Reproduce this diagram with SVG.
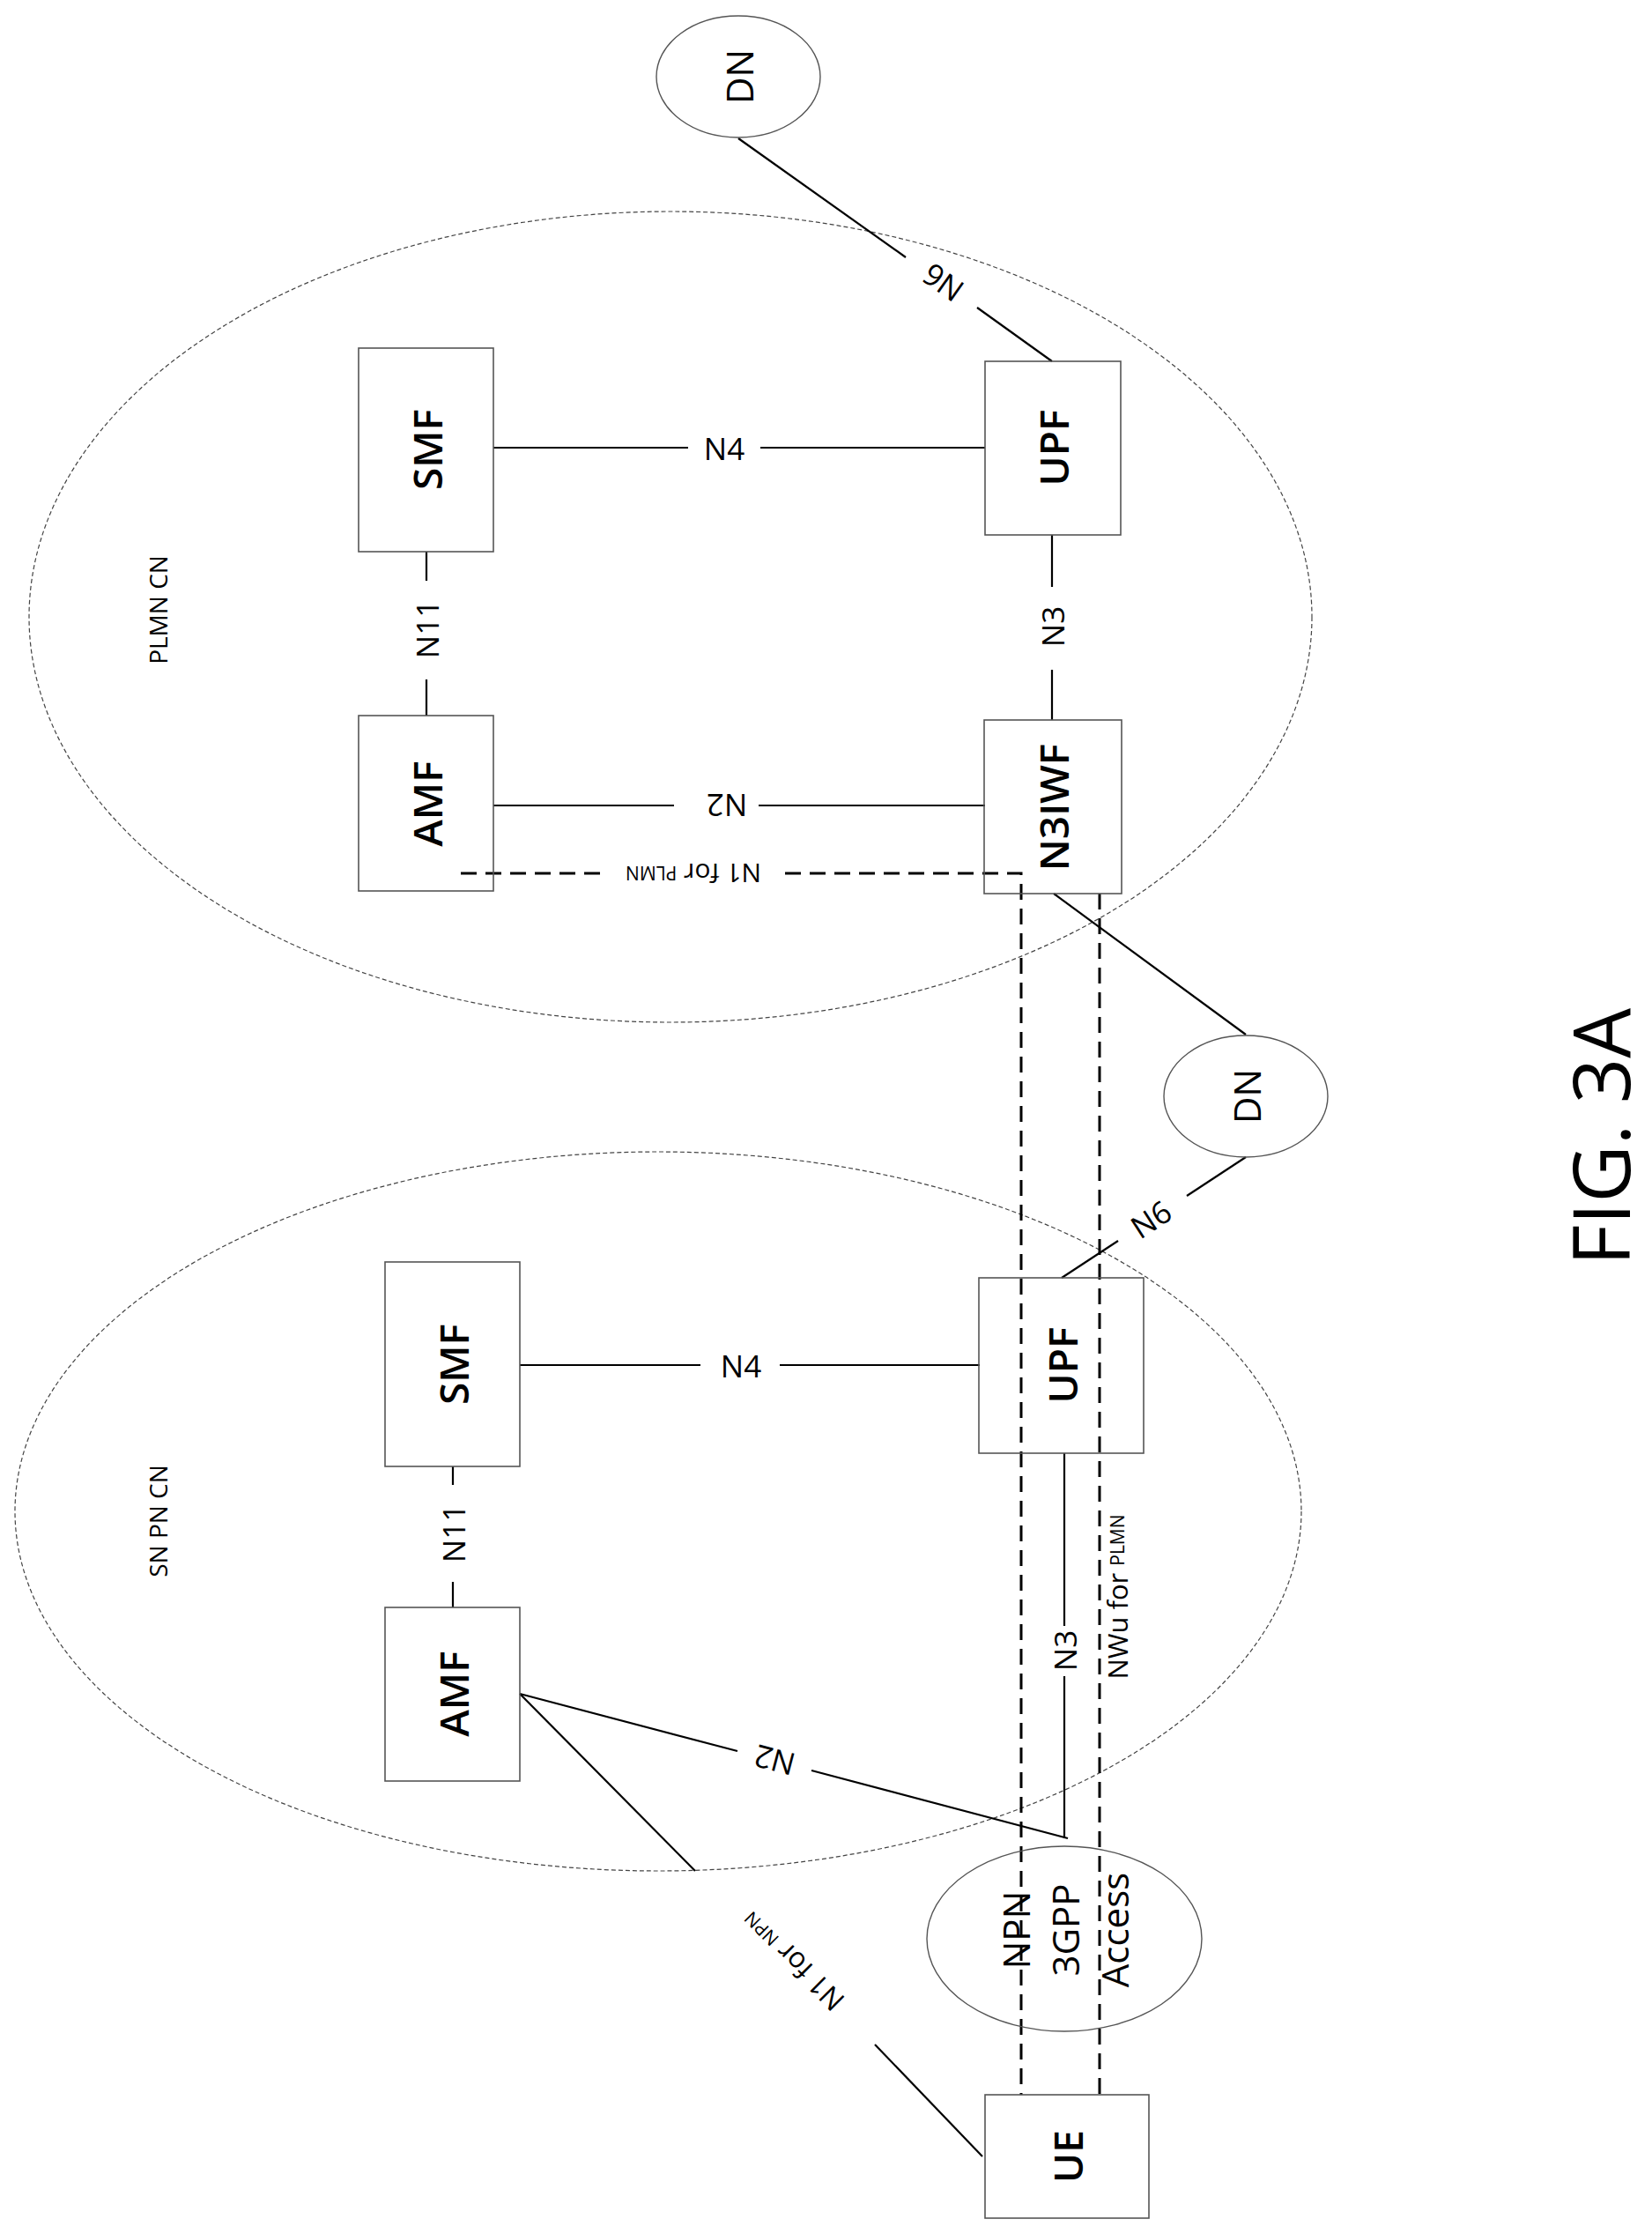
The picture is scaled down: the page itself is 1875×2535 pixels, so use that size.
<svg xmlns="http://www.w3.org/2000/svg" width="1875" height="2535" viewBox="0 0 1875 2535">
<style>
text{font-family:"Open Sans","DejaVu Sans",sans-serif;fill:#000;text-anchor:middle;dominant-baseline:central}
.box{fill:none;stroke:#555;stroke-width:1.6}
.cloud{fill:none;stroke:#444;stroke-width:1.2;stroke-dasharray:5 3}
.oval{fill:none;stroke:#555;stroke-width:1.4}
.ln{stroke:#000;stroke-width:2.2;fill:none}
.dash{stroke:#000;stroke-width:3;fill:none;stroke-dasharray:18 10}
.big{font-size:46px;font-weight:600}
.lbl{font-size:35px}
.sm{font-size:21px}
</style>
<rect width="1875" height="2535" fill="#fff"/>
<g id="plmn-cn">
<ellipse class="cloud" cx="761" cy="700" rx="728" ry="460"/>
<text x="179" y="692" font-size="28" transform="rotate(-90 179 692)">PLMN CN</text>
</g>
<g id="snpn-cn">
<ellipse class="cloud" cx="747" cy="1715" rx="730" ry="408"/>
<text x="179" y="1726" font-size="28" transform="rotate(-90 179 1726)">SN PN CN</text>
</g>
<g id="connectors">
<line class="ln" x1="560" y1="508" x2="781" y2="508"/><line class="ln" x1="863" y1="508" x2="1118" y2="508"/>
<text class="lbl" x="822" y="508">N4</text>
<line class="ln" x1="838" y1="157" x2="1028" y2="292"/><line class="ln" x1="1109" y1="349" x2="1194" y2="410"/>
<text class="lbl" x="1070" y="321" transform="rotate(215.4 1070 321)">N6</text>
<line class="ln" x1="1194" y1="607" x2="1194" y2="666"/><line class="ln" x1="1194" y1="760" x2="1194" y2="817"/>
<text class="lbl" x="1194" y="711" transform="rotate(-90 1194 711)">N3</text>
<line class="ln" x1="484" y1="626" x2="484" y2="659"/><line class="ln" x1="484" y1="771" x2="484" y2="812"/>
<text class="lbl" x="484" y="714" transform="rotate(-90 484 714)">N11</text>
<line class="ln" x1="560" y1="914" x2="765" y2="914"/><line class="ln" x1="861" y1="914" x2="1118" y2="914"/>
<text class="lbl" x="825" y="914" transform="rotate(180 825 914)">N2</text>
<polyline class="dash" points="523,991 688,991"/><polyline class="dash" points="891,991 1159,991 1159,2377"/>
<line class="dash" x1="1248" y1="1014" x2="1248" y2="2377"/>
<text x="787" y="991" font-size="30" transform="rotate(180 787 991)">N1 for <tspan class="sm">PLMN</tspan></text>
<line class="ln" x1="1196" y1="1014" x2="1414" y2="1174"/>
<line class="ln" x1="1205" y1="1450" x2="1269" y2="1408"/><line class="ln" x1="1347" y1="1357" x2="1414" y2="1313"/>
<text class="lbl" x="1306" y="1383" transform="rotate(-33 1306 1383)">N6</text>
<line class="ln" x1="590" y1="1549" x2="795" y2="1549"/><line class="ln" x1="885" y1="1549" x2="1112" y2="1549"/>
<text class="lbl" x="841" y="1549">N4</text>
<line class="ln" x1="514" y1="1664" x2="514" y2="1685"/><line class="ln" x1="514" y1="1795" x2="514" y2="1824"/>
<text class="lbl" x="514" y="1740" transform="rotate(-90 514 1740)">N11</text>
<line class="ln" x1="1208" y1="1649" x2="1208" y2="1845"/><line class="ln" x1="1208" y1="1902" x2="1208" y2="2086"/>
<text class="lbl" x="1208" y="1873" transform="rotate(-90 1208 1873)">N3</text>
<line class="ln" x1="590" y1="1922" x2="837" y2="1987"/><line class="ln" x1="921" y1="2009" x2="1212" y2="2086"/>
<text class="lbl" x="879" y="1998" transform="rotate(194.8 879 1998)">N2</text>
<line class="ln" x1="590" y1="1922" x2="789" y2="2123"/><line class="ln" x1="993" y1="2320" x2="1115" y2="2447"/>
<text x="900" y="2225" font-size="32" transform="rotate(225 900 2225)">N1 for <tspan class="sm">NPN</tspan></text>
<text x="1268" y="1812" font-size="31" transform="rotate(-90 1268 1812)">NWu for <tspan class="sm">PLMN</tspan></text>
</g>
<g id="dn-top"><ellipse class="oval" cx="838" cy="87" rx="93" ry="69"/><text font-size="42" x="838" y="87" transform="rotate(-90 838 87)">DN</text></g>
<g id="dn-bottom"><ellipse class="oval" cx="1414" cy="1244" rx="93" ry="69"/><text font-size="42" x="1414" y="1244" transform="rotate(-90 1414 1244)">DN</text></g>
<g id="smf-plmn"><rect class="box" x="407" y="395" width="153" height="231"/><text class="big" x="484" y="510" transform="rotate(-90 484 510)">SMF</text></g>
<g id="upf-plmn"><rect class="box" x="1118" y="410" width="154" height="197"/><text class="big" x="1195" y="508" transform="rotate(-90 1195 508)">UPF</text></g>
<g id="amf-plmn"><rect class="box" x="407" y="812" width="153" height="199"/><text class="big" x="484" y="912" transform="rotate(-90 484 912)">AMF</text></g>
<g id="n3iwf"><rect class="box" x="1117" y="817" width="156" height="197"/><text class="big" x="1195" y="916" transform="rotate(-90 1195 916)">N3IWF</text></g>
<g id="smf-snpn"><rect class="box" x="437" y="1432" width="153" height="232"/><text class="big" x="514" y="1548" transform="rotate(-90 514 1548)">SMF</text></g>
<g id="upf-snpn"><rect class="box" x="1111" y="1450" width="187" height="199"/><text class="big" x="1205" y="1549" transform="rotate(-90 1205 1549)">UPF</text></g>
<g id="amf-snpn"><rect class="box" x="437" y="1824" width="153" height="197"/><text class="big" x="514" y="1922" transform="rotate(-90 514 1922)">AMF</text></g>
<g id="npn-access"><ellipse class="oval" cx="1208" cy="2200" rx="156" ry="105"/>
<text font-size="42" transform="translate(1208 2190) rotate(-90)"><tspan x="0" y="-56">NPN</tspan><tspan x="0" y="0">3GPP</tspan><tspan x="0" y="56">Access</tspan></text></g>
<g id="ue"><rect class="box" x="1118" y="2377" width="186" height="140"/><text class="big" x="1211" y="2447" transform="rotate(-90 1211 2447)">UE</text></g>
<text x="1815" y="1290" font-size="90" transform="rotate(-90 1815 1290)">FIG. 3A</text>
</svg>
